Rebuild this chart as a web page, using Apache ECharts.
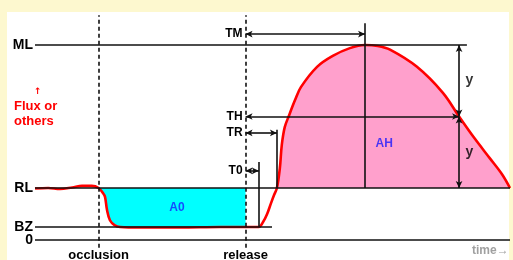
<!DOCTYPE html>
<html lang="en">
<head>
    <meta charset="UTF-8">
    <title>Reactive hyperemia</title>
    <script src="https://cdn.jsdelivr.net/npm/echarts@6/dist/echarts.min.js"></script>
    <style>
        body { margin: 0; }
        #wrap { position: relative; width: 513px; height: 260px; background: #fdf8cf; overflow: hidden; }
        #panel { position: absolute; left: 7px; top: 12px; width: 502px; height: 248px; background: #fff; }
        #chart { position: absolute; left: 0; top: 0; width: 513px; height: 260px; }
    </style>
</head>
<body>
<div id="wrap">
    <div id="panel"></div>
    <div id="chart"></div>
</div>
<script>
    // time (s) and flux (arbitrary units) of the red curve
    const curveT = [-130, -103, -79, -54, -34, -14, 0, 9, 13, 17, 23, 33, 44, 84, 166, 248, 300, 327,
        336, 344, 352, 358, 364, 370, 374, 380, 389, 401, 413, 446, 478, 513, 544,
        570, 595, 650, 703, 736, 768, 799, 824, 840];
    const curveV = [99, 100, 98, 101, 104, 104, 100, 90, 83, 58, 38, 28, 25, 24, 24, 25, 25, 25,
        35, 50, 71, 86, 100, 138, 183, 217, 240, 269, 294, 333, 354, 369, 375,
        373, 366, 333, 283, 237.5, 195, 157, 126, 100];

    // horizontal levels
    const levelNames = ['ML', 'RL', 'BZ', '0'];
    const levelValues = [375, 100, 25, 0];
    const levelEnds = [752, 840, 354, 840];

    // occlusion / release
    const eventNames = ['occlusion', 'release'];
    const eventTimes = [0, 300];

    // time markers measured from release
    const markNames = ['TM', 'TH', 'TR', 'T0'];
    const markLevels = [396, 237.5, 206, 133];
    const markEnds = [544, 736, 364, 327];
    const markTickTop = [417, null, 212, 150];
    const markTickBottom = [100, null, 100, 25];

    // y arrows at the right
    const yArrowT = 736;
    const yArrowLevels = [375, 237.5, 100];

    // area names
    const areaNames = ['A0', 'AH'];
    const areaT = [160, 583];
    const areaV = [63, 186];
    const yLabelT = [757, 757];
    const yLabelV = [308, 169];

    const releaseT = eventTimes[1];
    const rlValue = levelValues[1];
    const riseT = 364;

    let curve = curveT.map((t, i) => [t, curveV[i]]);
    let cyanPart = curve.filter(p => p[0] >= eventTimes[0] && p[0] <= releaseT);
    let pinkPart = curve.filter(p => p[0] >= riseT);

    let black = '#111';
    let lines = [];
    levelNames.forEach((n, i) => {
        lines.push([
            {coord: [-130, levelValues[i]], symbol: 'none',
                label: {show: true, position: 'start', formatter: n, distance: 2, color: '#000',
                    fontSize: 14, fontWeight: 'bold', fontFamily: 'Liberation Sans'}},
            {coord: [levelEnds[i], levelValues[i]], symbol: 'none'}
        ]);
    });
    eventNames.forEach((n, i) => {
        lines.push([
            {coord: [eventTimes[i], -15], symbol: 'none',
                lineStyle: {type: [4, 3], width: 1.6, color: black},
                label: {show: true, position: 'start', formatter: n, distance: 1, color: '#000',
                    fontSize: 13, fontWeight: 'bold', fontFamily: 'Liberation Sans'}},
            {coord: [eventTimes[i], 432], symbol: 'none'}
        ]);
    });
    markNames.forEach((n, i) => {
        lines.push([
            {coord: [releaseT, markLevels[i]], symbol: 'arrow',
                label: {show: true, position: 'start', formatter: n, distance: 3, color: '#000',
                    fontSize: 12, fontWeight: 'bold', fontFamily: 'Liberation Sans'}},
            {coord: [markEnds[i], markLevels[i]], symbol: 'arrow'}
        ]);
        if (markTickTop[i] !== null) {
            lines.push([
                {coord: [markEnds[i], markTickTop[i]], symbol: 'none'},
                {coord: [markEnds[i], markTickBottom[i]], symbol: 'none'}
            ]);
        }
    });
    for (let i = 0; i < yArrowLevels.length - 1; i++) {
        lines.push([
            {coord: [yArrowT, yArrowLevels[i]], symbol: 'arrow'},
            {coord: [yArrowT, yArrowLevels[i + 1]], symbol: 'arrow'}
        ]);
    }

    let labelPoints = [];
    areaNames.forEach((n, i) => {
        labelPoints.push({value: [areaT[i], areaV[i]], label: {formatter: n, color: '#1a1aff', fontSize: 12}});
    });
    yLabelT.forEach((t, i) => {
        labelPoints.push({value: [t, yLabelV[i]], label: {formatter: 'y', color: '#000', fontSize: 14}});
    });

    let myChart = echarts.init(document.getElementById('chart'));
    let option = {
        animation: false,
        grid: {left: 35, right: 3, top: 11.2, bottom: 0.24},
        xAxis: {type: 'value', min: -130, max: 840, show: false},
        yAxis: {type: 'value', min: -38, max: 440, show: false},
        graphic: [
            {type: 'text', left: 14, top: 99, style: {text: 'Flux or\nothers', fill: '#ff0000',
                    font: 'bold 13px "Liberation Sans"', lineHeight: 15}},
            {type: 'text', left: 34, top: 87, style: {text: '↑', fill: '#ff0000', font: 'bold 9px "DejaVu Sans"'}},
            {type: 'text', left: 472, top: 245, style: {text: 'time→', fill: '#a0a0a0',
                    font: 'bold 12px "Liberation Sans"'}}
        ],
        series: [
            {
                type: 'line', data: cyanPart, smooth: 0.35, symbol: 'none', z: 1,
                lineStyle: {width: 0}, areaStyle: {color: '#00ffff', opacity: 1, origin: rlValue}, silent: true
            },
            {
                type: 'line', data: pinkPart, smooth: 0.35, symbol: 'none', z: 1,
                lineStyle: {width: 0}, areaStyle: {color: '#ffa0cc', opacity: 1, origin: rlValue}, silent: true
            },
            {
                type: 'line', data: curve, smooth: 0.35, symbol: 'none', z: 4,
                lineStyle: {color: '#ff0000', width: 2.6}, silent: true
            },
            {
                type: 'line', data: [], z: 3, silent: true,
                markLine: {
                    silent: true, symbolSize: [5, 7],
                    lineStyle: {color: black, width: 1.6, type: 'solid'},
                    label: {show: false},
                    emphasis: {disabled: true},
                    data: lines
                }
            },
            {
                type: 'scatter', data: labelPoints, symbolSize: 0, z: 5, silent: true,
                label: {show: true, position: 'inside', fontWeight: 'bold', fontFamily: 'Liberation Sans'}
            }
        ]
    };
    myChart.setOption(option);
</script>
</body>
</html>
